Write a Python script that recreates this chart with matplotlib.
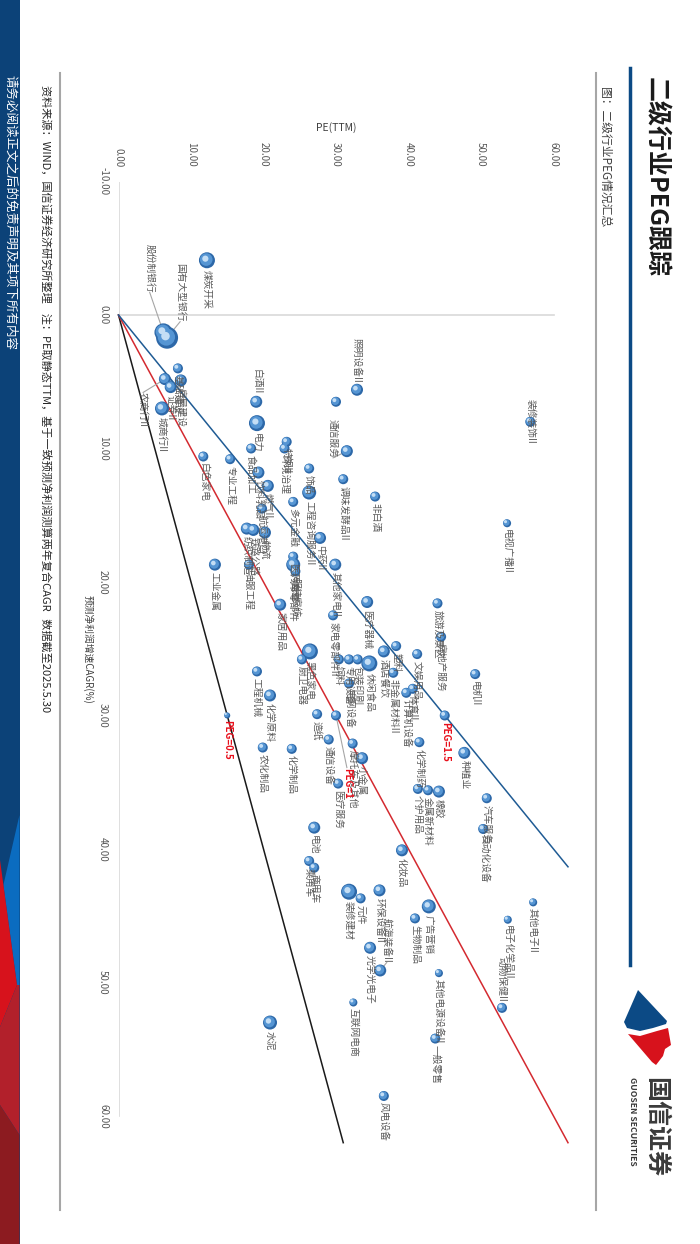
import matplotlib
matplotlib.use("Agg")
import matplotlib.pyplot as plt
from matplotlib.patches import Polygon
from matplotlib.transforms import ScaledTranslation

plt.rcParams['font.family'] = ['Noto Sans CJK SC', 'DejaVu Sans']

# 二级行业：PE(TTM)、预测净利润两年复合增速CAGR(%)、气泡大小
names = ['煤炭开采', '国有大型银行', '股份制银行', '基础建设', '农商行II', '房屋建设', '证券II', '城商行II',
         '白色家电', '专业工程', '白酒II', '电力', '食品加工', '饮料乳品', '燃气II', '航运港口',
         '物流', '纺织制造', '铁路公路', '油服工程', '环境治理', '特钢II', '多元金融', '饰品',
         '工程咨询服务II', '中药II', '医药商业', '汽车零部件', '服装家纺', '', '照明设备II', '通信服务',
         '调味发酵品II', '非白酒', '其他家电II', '家电零部件II', '工业金属', '家居用品', '黑色家电', '厨卫电器',
         '饲料', '专用设备', '包装印刷', '休闲食品', '电网设备', '工程机械', '化学原料', '农化制品',
         '化学制品', '造纸', '通信设备', '摩托车及其他', '小金属', '医疗服务', '医疗器械', '旅游及景区',
         '房地产服务', '文娱用品', '塑料', '酒店餐饮', '非金属材料II', '体育II', '计算机设备', '电机II',
         '种植业', '化学制药', '个护用品', '金属新材料', '橡胶', '汽车服务', '自动化设备', '化妆品',
         '电池', '乘用车', '商用车', '装修建材', '元件', '环保设备II', '光学光电子', '航海装备II',
         '广告营销', '生物制品', '其他电源设备II', '一般零售', '动物保健II', '电子化学品II', '其他电子II', '电视广播II',
         '装修装饰II', '互联网电商', '水泥', '风电设备']
pe = [12.2, 6.7, 6.2, 8.2, 6.4, 8.6, 7.2, 6.0,
      11.7, 15.4, 19.0, 19.1, 18.3, 19.3, 20.6, 19.8,
      20.2, 17.7, 18.6, 18.0, 22.9, 23.2, 24.1, 26.3,
      26.3, 27.8, 24.1, 24.1, 24.4, 30.0, 32.9, 31.5,
      31.0, 35.4, 29.9, 29.6, 13.3, 22.3, 26.4, 25.3,
      30.4, 31.8, 33.0, 34.6, 31.8, 19.1, 20.9, 19.9,
      23.9, 27.4, 29.0, 32.3, 33.6, 30.3, 34.3, 44.0,
      44.5, 41.2, 38.3, 36.6, 37.9, 40.6, 39.7, 49.2,
      47.7, 41.5, 41.3, 42.7, 44.2, 50.8, 50.3, 39.1,
      27.0, 26.3, 27.0, 31.8, 33.4, 36.0, 34.7, 36.1,
      42.8, 40.9, 44.2, 43.7, 52.9, 53.7, 57.2, 53.6,
      56.8, 32.4, 20.9, 36.6]
cagr = [-4.1, 1.7, 1.3, 4.0, 4.8, 4.9, 5.4, 7.0,
        10.6, 10.8, 6.5, 8.1, 10.0, 11.8, 12.8, 14.5,
        16.3, 16.0, 16.1, 18.7, 10.0, 9.5, 14.0, 11.5,
        13.3, 16.7, 18.1, 18.7, 19.2, 6.5, 5.6, 10.2,
        12.3, 13.6, 18.7, 22.5, 18.7, 21.7, 25.2, 25.8,
        25.8, 25.8, 25.8, 26.1, 27.6, 26.7, 28.5, 32.4,
        32.5, 29.9, 31.8, 32.1, 33.2, 35.1, 21.5, 21.6,
        24.1, 25.4, 24.8, 25.2, 26.8, 28.0, 28.3, 26.9,
        32.8, 32.0, 35.5, 35.6, 35.7, 36.2, 38.5, 40.1,
        38.4, 40.9, 41.4, 43.2, 43.7, 43.1, 47.4, 49.1,
        44.3, 45.2, 49.3, 54.2, 51.9, 45.3, 44.0, 15.6,
        8.0, 51.5, 53.0, 58.5]
bubble = [8, 11, 9, 5, 6, 6, 6, 7,
          5, 5, 6, 8, 5, 6, 6, 5,
          6, 6, 6, 5, 5, 5, 5, 5,
          7, 6, 5, 7, 5, 5, 6, 6,
          5, 5, 6, 5, 6, 6, 8, 5,
          5, 5, 5, 8, 5, 5, 6, 5,
          5, 5, 5, 5, 6, 5, 6, 5,
          5, 5, 5, 6, 5, 5, 5, 5,
          6, 5, 5, 5, 6, 5, 5, 6,
          6, 5, 5, 8, 5, 6, 6, 6,
          7, 5, 4, 5, 5, 4, 4, 4,
          5, 4, 7, 5]

peg_levels = [0.5, 1.0, 1.5]
peg_labels = ['PEG=0.5', 'PEG=1', 'PEG=1.5']
peg_colors = ['#1a1a1a', '#d42a30', '#1f5b94']
peg_mark_cagr = 30

pe_ticks = [0, 10, 20, 30, 40, 50, 60]
cagr_ticks = [-10, 0, 10, 20, 30, 40, 50, 60]

# 标签位置调整（被手动挪动过的标签）
label_above = {'白酒II', '照明设备II', '动物保健II'}
label_center = {'装修装饰II'}
label_at = {'国有大型银行': (8.5, 0.5, 'bottom'), '股份制银行': (4.3, -1.7, 'bottom'),
            '农商行II': (3.4, 5.8, 'top'), '通信服务': (29.6, 10.7, 'bottom'),
            '航海装备II': (37.0, 48.5, 'bottom'), 'PEG=1': (31.5, 33.9, 'top')}

W, H = 700, 1244
fig = plt.figure(figsize=(W / 100, H / 100), dpi=100)

# 背景画布（像素坐标）
bg = fig.add_axes([0, 0, 1, 1], zorder=0)
bg.set_xlim(0, W)
bg.set_ylim(H, 0)
bg.axis('off')

# 左侧蓝条
bg.add_patch(Polygon([(0, 0), (19.5, 0), (19.5, H), (0, H)], closed=True, color='#0c4278', lw=0))
bg.add_patch(Polygon([(19.5, 815), (19.5, 985), (17, 985), (3.4, 885)], closed=True, color='#0b6cc0', lw=0))
bg.add_patch(Polygon([(0, 860), (17, 985), (0, 1027)], closed=True, color='#d7121c', lw=0))
bg.add_patch(Polygon([(17, 985), (19.5, 985), (19.5, 1135), (0, 1105), (0, 1027)], closed=True, color='#b2202b', lw=0))
bg.add_patch(Polygon([(0, 1105), (19.5, 1135), (19.5, H), (0, H)], closed=True, color='#8c1b20', lw=0))
bg.text(10, 75, '请务必阅读正文之后的免责声明及其项下所有内容', rotation=-90, ha='center', va='top',
        color='white', fontsize=9)

# 框线
bg.plot([596, 596], [73, 1210], color='#a6a6a6', lw=1.5)
bg.plot([60, 60], [73, 1210], color='#a6a6a6', lw=1.5)
bg.plot([630, 630], [68, 965], color='#0b4a85', lw=2.5)

# 标题
bg.text(655, 77, '二级行业PEG跟踪', rotation=-90, ha='center', va='top', fontsize=18, fontweight='bold',
        color='#1a1a1a')
bg.text(605, 87, '图：二级行业PEG情况汇总', rotation=-90, ha='center', va='top', fontsize=8.5, color='#404040')
bg.text(45, 85, '资料来源：WIND，国信证券经济研究所整理    注：PE取静态TTM，基于一致预测净利润测算两年复合CAGR   数据截至2025.5.30',
        rotation=-90, ha='center', va='top', fontsize=8, color='#262626')

# logo
bg.add_patch(Polygon([(638, 990), (667, 1021), (666, 1024), (653, 1028), (640, 1031), (627, 1028), (624, 1022)],
                     closed=True, color='#0c4a85', lw=0))
bg.add_patch(Polygon([(628, 1034), (640, 1036), (657, 1031), (668, 1028), (671, 1045), (665, 1049), (663, 1056),
                      (656, 1065), (652, 1062)], closed=True, color='#d7121c', lw=0))
bg.text(655, 1077, '国信证券', rotation=-90, ha='center', va='top', fontsize=18, fontweight='bold', color='#3a3a3a')
bg.text(632, 1077, 'GUOSEN SECURITIES', rotation=-90, ha='center', va='top', fontsize=6.2, fontweight='bold',
        color='#3a3a3a')

# 坐标轴标题
bg.text(336, 128, 'PE(TTM)', ha='center', va='center', fontsize=7.5, color='#404040')
bg.text(88, 649, '预测净利润增速CAGR(%)', rotation=-90, ha='center', va='center', fontsize=7, color='#404040')

# 主图：横向为PE，纵向为CAGR
ax = fig.add_axes([118.5 / W, 1 - 1142.7 / H, (568 - 118.5) / W, (1142.7 - 181.5) / H], zorder=1)
ax.patch.set_alpha(0)
ax.set_xlim(0, 62)
ax.set_ylim(62, -10)
for sp in ax.spines.values():
    sp.set_visible(False)

ax.xaxis.tick_top()
ax.set_xticks(pe_ticks, [f'{t:.2f}' for t in pe_ticks], rotation=-90)
ax.set_yticks(cagr_ticks, [f'{t:.2f}' for t in cagr_ticks], rotation=-90, va='center')
ax.tick_params(axis='x', length=0, pad=10.5, labelsize=7, labelcolor='#595959')
ax.tick_params(axis='y', length=0, pad=7.5, labelsize=7, labelcolor='#595959')

ax.plot([0, 60], [0, 0], color='#d9d9d9', lw=1.2, zorder=1)
ax.plot([0, 0], [-10, 60], color='#d9d9d9', lw=1.2, zorder=1)

# PEG 参考线：PE = PEG × CAGR
for peg, c in zip(peg_levels, peg_colors):
    end = min(62, 62 / peg)
    ax.plot([0, peg * end], [0, end], color=c, lw=1.1, zorder=2, clip_on=False)

# 气泡（球体效果）
px2pt = 72 / 100
sizes = [(2 * r * px2pt) ** 2 for r in bubble]
peg_pe = [p * peg_mark_cagr for p in peg_levels]
peg_cagr = [peg_mark_cagr] * len(peg_levels)
peg_r = [3, 5, 5]
all_x = pe + peg_pe
all_y = cagr + peg_cagr
all_s = sizes + [(2 * r * px2pt) ** 2 for r in peg_r]
off1 = ax.transData + ScaledTranslation(-0.7 / 100, 0.7 / 100, fig.dpi_scale_trans)
off2 = ax.transData + ScaledTranslation(-1.6 / 100, 1.6 / 100, fig.dpi_scale_trans)
ax.scatter(all_x, all_y, s=all_s, color='#2d68a8', lw=0, zorder=3)
ax.scatter(all_x, all_y, s=[v * 0.62 for v in all_s], color='#5595d3', lw=0, zorder=4, transform=off1)
ax.scatter(all_x, all_y, s=[v * 0.15 for v in all_s], color='#c4def5', lw=0, zorder=5, transform=off2)

# 数据标签
def put_label(text, x, y, r, color, size, weight='normal'):
    if text in label_at:
        lx, ly, va = label_at[text]
        ax.annotate(text, (lx, ly), rotation=-90, ha='center', va=va, fontsize=size, color=color,
                    fontweight=weight, zorder=6)
        ax.plot([lx, x], [ly, y], color='#a6a6a6', lw=0.8, zorder=2)
        return
    if text in label_above:
        dy, va = (r + 1.5) * px2pt, 'bottom'
    elif text in label_center:
        dy, va = 0, 'center'
    else:
        dy, va = -(r + 1.5) * px2pt, 'top'
    ax.annotate(text, (x, y), xytext=(0, dy), textcoords='offset points', rotation=-90, ha='center',
                va=va, fontsize=size, color=color, fontweight=weight, zorder=6)

for n, x, y, r in zip(names, pe, cagr, bubble):
    if n:
        put_label(n, x, y, r, '#595959', 7)
for n, x, y, r in zip(peg_labels, peg_pe, peg_cagr, peg_r):
    put_label(n, x, y, r, '#e8101c', 7, 'bold')

fig.savefig('out.png', dpi=100)
